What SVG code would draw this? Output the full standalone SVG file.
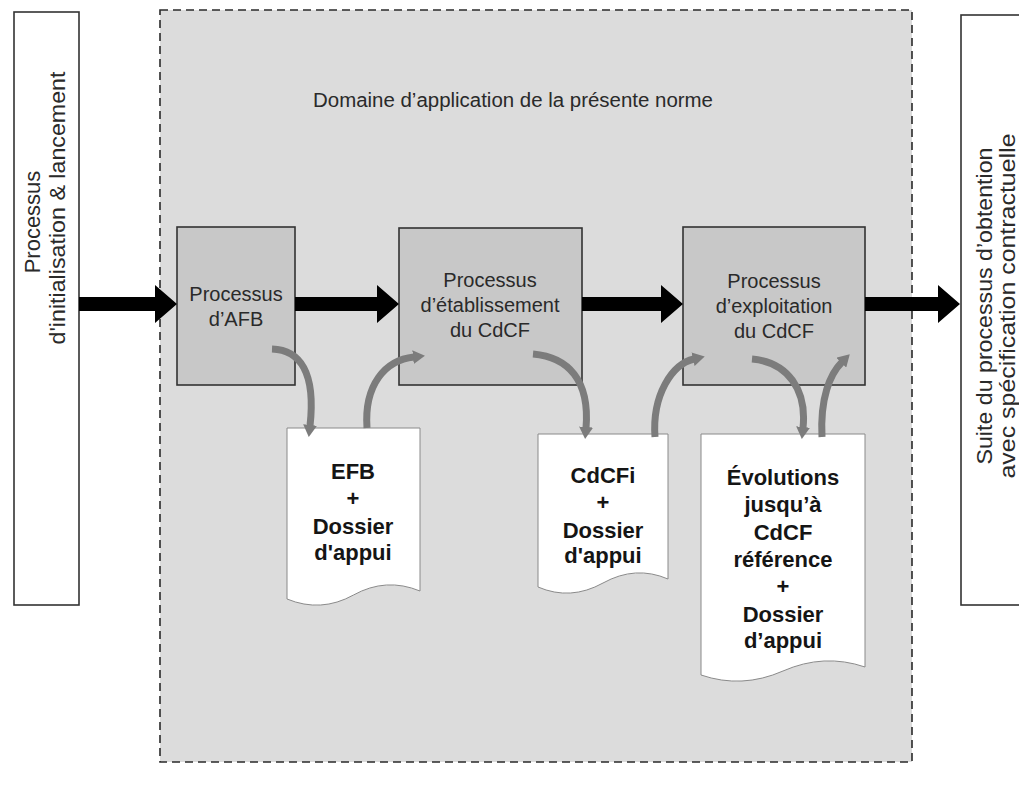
<svg xmlns="http://www.w3.org/2000/svg" width="1019" height="795" viewBox="0 0 1019 795">
<style>
.bg{fill:#ffffff}
.scope{fill:#dcdcdc;stroke:#2a2a2a;stroke-width:1.6;stroke-dasharray:8 5}
.side{fill:#ffffff;stroke:#333333;stroke-width:1.6}
.proc{fill:#c8c8c8;stroke:#333333;stroke-width:1.6}
.doc{fill:#ffffff;stroke:#8a8a8a;stroke-width:1}
.t{font-family:"Liberation Sans",Arial,sans-serif;fill:#2a2a2a;text-anchor:middle}
.pt{font-size:20px}
.dt{font-size:22px;font-weight:bold;fill:#151515}
.vt{font-size:22px}
.big{fill:#000000}
.flow{fill:none;stroke:#7c7c7c;stroke-width:7;marker-end:url(#gh)}
</style>
<defs>
<marker id="gh" markerUnits="userSpaceOnUse" markerWidth="12" markerHeight="14" viewBox="0 0 12 14" refX="1" refY="7" orient="auto">
<path d="M0,0 L12,7 L0,14 z" fill="#7c7c7c"/>
</marker>
</defs>
<rect class="bg" x="0" y="0" width="1019" height="795"/>

<g id="scope">
<rect class="scope" x="160" y="10" width="752" height="752"/>
<text class="t" x="513" y="107" font-size="20" textLength="400" lengthAdjust="spacingAndGlyphs">Domaine d’application de la présente norme</text>
</g>

<g id="init">
<rect class="side" x="14" y="12" width="65" height="593"/>
<text class="t vt" transform="translate(40,222) rotate(-90)">Processus</text>
<text class="t vt" transform="translate(65,208) rotate(-90)" textLength="273" lengthAdjust="spacingAndGlyphs">d'initialisation &amp; lancement</text>
</g>

<g id="suite">
<rect class="side" x="961" y="15" width="70" height="590"/>
<text class="t vt" transform="translate(992,306) rotate(-90)" textLength="317" lengthAdjust="spacingAndGlyphs">Suite du processus d’obtention</text>
<text class="t vt" transform="translate(1015,306) rotate(-90)" textLength="345" lengthAdjust="spacingAndGlyphs">avec spécification contractuelle</text>
</g>

<g id="afb">
<rect class="proc" x="177" y="227" width="118" height="158"/>
<text class="t pt" x="236" y="301">Processus</text>
<text class="t pt" x="236" y="326">d’AFB</text>
</g>

<g id="etab">
<rect class="proc" x="399" y="228" width="183" height="157"/>
<text class="t pt" x="490" y="287">Processus</text>
<text class="t pt" x="490" y="312">d’établissement</text>
<text class="t pt" x="490" y="337">du CdCF</text>
</g>

<g id="exploit">
<rect class="proc" x="683" y="227" width="182" height="158"/>
<text class="t pt" x="774" y="288">Processus</text>
<text class="t pt" x="774" y="313">d’exploitation</text>
<text class="t pt" x="774" y="338">du CdCF</text>
</g>

<g id="doc-efb">
<path class="doc" d="M287,428 H420 V591 Q386,577 353.5,595 T287,599 Z"/>
<text class="t dt" x="353" y="479">EFB</text>
<text class="t dt" x="353" y="506">+</text>
<text class="t dt" x="353" y="534">Dossier</text>
<text class="t dt" x="353" y="560">d'appui</text>
</g>

<g id="doc-cdcfi">
<path class="doc" d="M538,434 H668 V579 Q635.5,565 603,583 T538,587 Z"/>
<text class="t dt" x="603" y="483">CdCFi</text>
<text class="t dt" x="603" y="510">+</text>
<text class="t dt" x="603" y="538">Dossier</text>
<text class="t dt" x="603" y="563">d'appui</text>
</g>

<g id="doc-evol">
<path class="doc" d="M701,434 H865 V667 Q824,653 783,671 T701,675 Z"/>
<text class="t dt" x="783" y="485">Évolutions</text>
<text class="t dt" x="783" y="512">jusqu’à</text>
<text class="t dt" x="783" y="540">CdCF</text>
<text class="t dt" x="783" y="567">référence</text>
<text class="t dt" x="783" y="594">+</text>
<text class="t dt" x="783" y="622">Dossier</text>
<text class="t dt" x="783" y="648">d’appui</text>
</g>

<g id="connectors">
<polygon class="big" points="79,297 155,297 155,285 177,304 155,323 155,311 79,311"/>
<polygon class="big" points="295,297 377,297 377,285 399,304 377,323 377,311 295,311"/>
<polygon class="big" points="582,297 661,297 661,285 683,304 661,323 661,311 582,311"/>
<polygon class="big" points="865,297 938,297 938,285 960,304 938,323 938,311 865,311"/>
<path class="flow" d="M272,349 C300,350 316,372 310,426"/>
<path class="flow" d="M367,428 C364,385 385,360 414,357"/>
<path class="flow" d="M533,354 C568,357 590,380 586,428"/>
<path class="flow" d="M655,437 C652,395 672,364 694,359"/>
<path class="flow" d="M752,359 C788,362 807,390 803,428"/>
<path class="flow" d="M822,437 C820,398 830,374 842,362"/>
</g>
</svg>
